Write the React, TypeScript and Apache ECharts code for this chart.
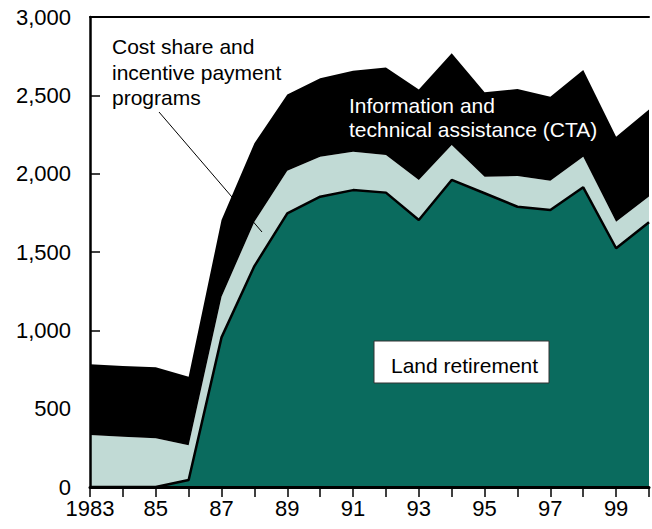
import React, { useEffect, useRef } from "react";
import * as echarts from "echarts";

const years = ["1983", "1984", "1985", "1986", "1987", "1988", "1989", "1990", "1991", "1992", "1993", "1994", "1995", "1996", "1997", "1998", "1999", "2000"];
const xTickLabels = ["1983", "", "85", "", "87", "", "89", "", "91", "", "93", "", "95", "", "97", "", "99", ""];
const landRetirement = [0, 0, 0, 45, 955, 1410, 1747, 1853, 1895, 1879, 1704, 1960, 1875, 1789, 1768, 1913, 1524, 1690];
const costShare = [332, 320, 311, 221, 260, 283, 271, 255, 245, 240, 256, 223, 106, 196, 187, 195, 169, 164];
const cta = [451, 452, 453, 438, 489, 501, 488, 501, 517, 558, 578, 585, 538, 555, 536, 554, 543, 556];
const yTicks = [0, 500, 1000, 1500, 2000, 2500, 3000];

const FONT = "'Liberation Sans', Arial, Helvetica, sans-serif";

export default function App() {
  const ref = useRef<HTMLDivElement>(null);
  useEffect(() => {
    if (!ref.current) return;
    const chart = echarts.init(ref.current, null, { renderer: "svg" });
    chart.setOption({
      animation: false,
      backgroundColor: "#ffffff",
      textStyle: { fontFamily: FONT },
      grid: { left: 90, top: 17, bottom: 42, right: -5, containLabel: false },
      xAxis: [
        {
          type: "category",
          data: years,
          boundaryGap: false,
          z: 10,
          axisLine: { show: true, onZero: false, lineStyle: { color: "#000", width: 3 } },
          axisTick: { show: true, inside: false, length: 10, interval: 0, lineStyle: { color: "#000", width: 1.5 } },
          axisLabel: {
            show: true,
            interval: 0,
            margin: 10,
            fontSize: 22,
            color: "#000",
            fontFamily: FONT,
            formatter: (_v: string, i: number) => xTickLabels[i],
          },
          splitLine: { show: false },
        },
        {
          type: "category",
          data: years,
          boundaryGap: false,
          position: "top",
          z: 10,
          axisLine: { show: true, onZero: false, lineStyle: { color: "#000", width: 2 } },
          axisTick: { show: false },
          axisLabel: { show: false },
          splitLine: { show: false },
        },
      ],
      yAxis: {
        type: "value",
        min: yTicks[0],
        max: yTicks[yTicks.length - 1],
        interval: 500,
        z: 10,
        axisLine: { show: true, lineStyle: { color: "#000", width: 2.5 } },
        axisTick: { show: true, inside: true, length: 10, lineStyle: { color: "#000", width: 1.5 } },
        axisLabel: {
          fontSize: 22,
          color: "#000",
          margin: 19,
          fontFamily: FONT,
          formatter: (v: number) => v.toLocaleString("en-US"),
        },
        splitLine: { show: false },
      },
      series: [
        {
          name: "Land retirement",
          type: "line",
          stack: "total",
          data: landRetirement,
          symbol: "none",
          lineStyle: { color: "#000", width: 2.5 },
          areaStyle: { color: "#0a6b5e", opacity: 1 },
          z: 3,
        },
        {
          name: "Cost share and incentive payment programs",
          type: "line",
          stack: "total",
          data: costShare,
          symbol: "none",
          lineStyle: { width: 0, color: "#c1dad5" },
          areaStyle: { color: "#c1dad5", opacity: 1 },
          z: 2,
        },
        {
          name: "Information and technical assistance (CTA)",
          type: "line",
          stack: "total",
          data: cta,
          symbol: "none",
          lineStyle: { width: 0, color: "#000" },
          areaStyle: { color: "#000", opacity: 1 },
          z: 2,
        },
      ],
      graphic: [
        {
          type: "line",
          z: 100,
          shape: { x1: 159, y1: 112, x2: 262, y2: 232 },
          style: { stroke: "#000", lineWidth: 1 },
        },
        {
          type: "text",
          z: 100,
          left: 112,
          top: 34,
          style: {
            text: "Cost share and\nincentive payment\nprograms",
            font: `21px ${FONT}`,
            fill: "#000",
            lineHeight: 25.5,
          },
        },
        {
          type: "text",
          z: 100,
          left: 349,
          top: 93,
          style: {
            text: "Information and\ntechnical assistance (CTA)",
            font: `21px ${FONT}`,
            fill: "#fff",
            lineHeight: 24.5,
          },
        },
        {
          type: "rect",
          z: 100,
          shape: { x: 374, y: 341, width: 175, height: 42 },
          style: { fill: "#fff", stroke: "#333", lineWidth: 1 },
        },
        {
          type: "text",
          z: 101,
          x: 391,
          y: 365,
          style: {
            text: "Land retirement",
            font: `21px ${FONT}`,
            fill: "#000",
            verticalAlign: "middle",
          },
        },
      ],
    });
    return () => chart.dispose();
  }, []);
  return <div ref={ref} style={{ position: "fixed", left: 0, top: 0, width: 652, height: 529 }} />;
}
